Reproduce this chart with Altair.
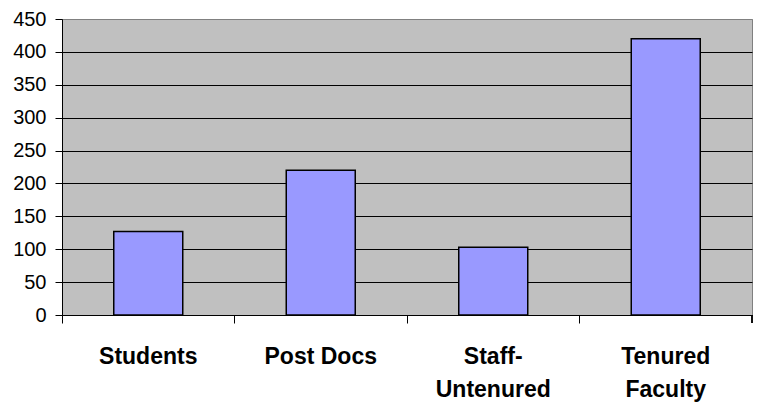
import altair as alt
import pandas as pd

# Headcount by position
categories = ["Students", "Post Docs", "Staff-Untenured", "Tenured Faculty"]
counts = [127, 220, 103, 420]
y_ticks = [0, 50, 100, 150, 200, 250, 300, 350, 400, 450]

df = pd.DataFrame({"category": categories, "count": counts})

W, H = 690, 296

label_expr = (
    "datum.label == 'Staff-Untenured' ? ['Staff-', 'Untenured'] : "
    "datum.label == 'Tenured Faculty' ? ['Tenured', 'Faculty'] : datum.label"
)

bars = alt.Chart(df).mark_bar(
    color="#9999FF", stroke="#000000", strokeWidth=1.5
).encode(
    x=alt.X(
        "category:N",
        sort=categories,
        title=None,
        scale=alt.Scale(paddingInner=0.6, paddingOuter=0.3),
        axis=alt.Axis(
            labelAngle=0,
            labelExpr=label_expr,
            labelFont="Liberation Sans",
            labelFontWeight="bold",
            labelFontSize=23,
            labelColor="#000000",
            labelLineHeight=33,
            labelPadding=22,
            # ticks sit on the category boundaries, half a gap left of each bar
            bandPosition=-0.75,
            tickSize=8,
            tickColor="#000000",
            domainColor="#000000",
            grid=False,
        ),
    ),
    y=alt.Y(
        "count:Q",
        title=None,
        scale=alt.Scale(domain=[0, 450], nice=False),
        axis=alt.Axis(
            values=y_ticks,
            labelFont="Liberation Sans",
            labelFontSize=20,
            labelColor="#000000",
            labelPadding=9,
            tickSize=7,
            tickColor="#000000",
            domainColor="#000000",
            gridColor={
                "condition": {"test": "datum.value === 450", "value": "#808080"},
                "value": "#000000",
            },
            gridOpacity=1,
        ),
    ),
)

# closing tick at the right end of the category axis
end_tick = alt.Chart(df).mark_rule(color="#000000").encode(
    x=alt.value(W), y=alt.value(H), y2=alt.value(H + 8)
)

chart = (
    alt.layer(bars, end_tick)
    .properties(
        width=W,
        height=H,
        autosize=alt.AutoSizeParams(type="none"),
        padding={"left": 62, "top": 19, "right": 22, "bottom": 89},
        background="#FFFFFF",
    )
    .configure_view(fill="#C0C0C0", stroke="#808080", strokeWidth=1)
)

chart.save("out.html", embed_options={"renderer": "svg", "actions": False})
